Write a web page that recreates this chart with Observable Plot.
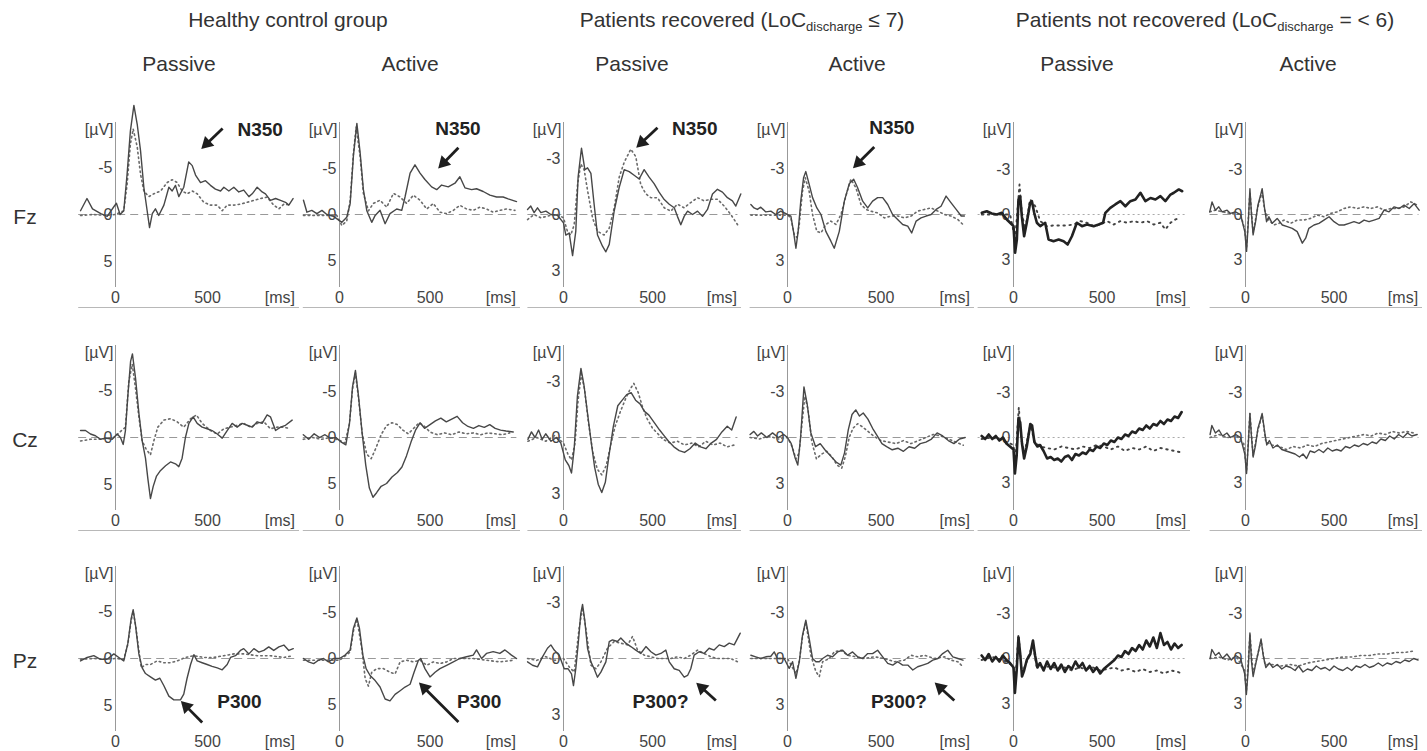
<!DOCTYPE html>
<html>
<head>
<meta charset="utf-8">
<script src="https://cdn.jsdelivr.net/npm/d3@7"></script>
<script src="https://cdn.jsdelivr.net/npm/@observablehq/plot@0.6"></script>
<style>
  body { margin: 0; background: #fff; font-family: "Liberation Sans", Arial, Helvetica, sans-serif; color: #333; }
  #fig { position: relative; width: 1427px; height: 751px; overflow: hidden; background: #fff; }
  .lbl { position: absolute; white-space: nowrap; font-size: 21px; transform: translate(-50%, -50%); color: #333; }
  .lbl sub { font-size: 13px; vertical-align: -4px; line-height: 0; }
  .panel { position: absolute; }
</style>
</head>
<body>
<div id="fig"></div>
<script>
// ---- labels -------------------------------------------------------------
const groupTitles = [
  "Healthy control group",
  "Patients recovered (LoC<sub>discharge</sub> \u2264 7)",
  "Patients not recovered (LoC<sub>discharge</sub> = < 6)"
];
const conditions = ["Passive", "Active", "Passive", "Active", "Passive", "Active"];
const electrodes = ["Fz", "Cz", "Pz"];
const healthyTicks = [-5, 0, 5];
const patientTicks = [-3, 0, 3];
const timeTicks = [0, 500];

// ---- grand averages: [time ms, amplitude µV]  (solid / dotted trace) -------
// Fz
const fzHealthyPassiveSolid = [[-190,-0.4],[-155,-1.7],[-125,-0.6],[-80,-0.1],[-45,0.2],[-10,-0.8],[5,-1.2],[25,0],[45,-0.4],[63,-4.3],[81,-8.9],[100,-11.6],[118,-9.6],[136,-6.8],[154,-2.9],[172,-0.4],[185,1.4],[200,-0.1],[217,-0.6],[235,0.1],[263,-1],[290,-2.9],[308,-2.5],[326,-3.1],[344,-1.9],[371,-2.9],[398,-5.6],[417,-5.2],[435,-4.2],[462,-3.4],[489,-3.6],[516,-3.1],[543,-2.7],[571,-2.5],[589,-2.9],[616,-2.5],[643,-2.9],[670,-2.4],[697,-2.6],[725,-1.9],[743,-2.2],[770,-2.9],[797,-2.4],[815,-2.2],[842,-1.5],[870,-1.7],[897,-1.5],[924,-1.3],[942,-1.0],[965,-1.7]];
const fzHealthyPassiveDotted = [[-190,0.1],[-120,0],[-50,0.1],[0,0],[45,-0.4],[63,-3.2],[81,-7.5],[96,-9.1],[118,-7.2],[136,-4.3],[154,-2.5],[181,-1.9],[208,-2.2],[245,-2.5],[281,-3.4],[308,-3.7],[335,-3.4],[362,-2.5],[390,-2.2],[417,-2.5],[444,-2.2],[480,-1.3],[516,-1.0],[553,-1.0],[580,-0.4],[607,-1.0],[643,-1.0],[679,-1.1],[716,-1.3],[752,-1.5],[788,-1.7],[824,-1.85],[860,-1.0],[888,-0.6],[915,-1.1],[951,-1.0]];
const fzHealthyActiveSolid = [[-199,-1.55],[-180,-0.25],[-153,-0.45],[-125,-0.1],[-97,-0.45],[-70,0],[-33,0.2],[13,0.85],[40,0.3],[59,-1.2],[77,-6.4],[96,-9.9],[114,-6.7],[132,-2.7],[151,-0.4],[178,0.85],[197,0.1],[224,-0.45],[252,1.0],[279,-0.1],[316,-0.6],[344,-0.45],[362,-1.9],[390,-4.5],[417,-5.4],[445,-4.5],[472,-3.8],[509,-3.0],[537,-2.7],[564,-3.2],[601,-3.0],[638,-3.4],[665,-4.1],[693,-2.9],[730,-2.7],[757,-2.8],[794,-2.5],[831,-2.1],[868,-1.9],[904,-1.9],[932,-1.7],[978,-1.4]];
const fzHealthyActiveDotted = [[-199,0.1],[-150,0.1],[-100,0.1],[-50,0.1],[-15,0.1],[13,1.2],[40,0.7],[59,-1.5],[77,-6.7],[92,-9.5],[114,-6.3],[132,-2.3],[160,-0.4],[187,-1.2],[224,-1.55],[261,-0.8],[298,-2.3],[335,-1.9],[371,-1.2],[408,-2.1],[445,-1.55],[482,-0.6],[518,-1.2],[555,-0.25],[592,-0.1],[629,-0.45],[665,-1.0],[702,-0.6],[739,-0.45],[776,-0.8],[812,-0.6],[849,-0.25],[886,-0.45],[923,-0.6],[969,-0.45]];
const fzRecoveredPassiveSolid = [[-202,-0.27],[-184,-0.45],[-165,-0.1],[-146,-0.36],[-127,-0.1],[-99,-0.18],[-71,0],[-34,0.04],[0,0.45],[13,1.1],[32,1.0],[51,2.2],[69,0.9],[82,-2.0],[101,-3.55],[120,-2.4],[135,-2.5],[154,-2.2],[172,-0.55],[191,1.1],[219,1.7],[238,2.0],[257,1.6],[285,-0.2],[313,-1.45],[341,-2.4],[369,-2.3],[397,-2.1],[425,-1.9],[453,-2.4],[481,-2.0],[509,-1.65],[537,-1.2],[566,-0.8],[594,-0.55],[622,-0.36],[640,0.1],[659,0.55],[678,0.1],[697,-0.18],[725,0],[753,-0.18],[781,0.1],[809,-0.27],[837,-1.1],[865,-1.35],[893,-1.2],[921,-0.9],[949,-0.73],[968,-0.45],[996,-1.1]];
const fzRecoveredPassiveDotted = [[-202,0.27],[-165,0],[-127,0.18],[-71,0.04],[-34,0],[0,0.18],[22,0.9],[41,1.1],[60,0.55],[79,-1.6],[97,-2.7],[116,-2.4],[135,-1.3],[163,0.18],[191,0.9],[228,1.1],[257,0.73],[285,-0.36],[313,-2.0],[341,-2.8],[378,-3.5],[406,-3.1],[434,-1.6],[463,-1.1],[491,-0.9],[528,-0.9],[566,-0.36],[603,-0.18],[640,-0.55],[678,-0.36],[715,-0.64],[753,-0.9],[790,-0.73],[828,-0.82],[865,-0.82],[903,-0.45],[940,0],[978,0.55]];
const fzRecoveredActiveSolid = [[-196,-0.65],[-179,-0.43],[-161,-0.33],[-143,-0.48],[-116,-0.17],[-89,-0.22],[-63,0],[-36,-0.22],[0,0],[18,0.1],[32,1.1],[45,2.2],[57,1.1],[71,-0.87],[86,-2.4],[98,-2.8],[116,-1.96],[134,-1.1],[157,-0.43],[179,0],[205,1.1],[232,1.74],[250,2.2],[277,1.1],[304,-0.87],[330,-2.0],[354,-2.3],[375,-1.74],[402,-0.87],[429,-0.43],[455,-0.87],[482,-1.1],[509,-1.1],[536,-0.65],[562,0],[589,0.33],[616,0.65],[643,0.76],[664,1.2],[688,0.43],[714,0.22],[741,0.1],[768,0],[795,-0.33],[821,-0.54],[848,-1.2],[875,-0.76],[902,-0.33],[929,0.1],[946,0.1]];
const fzRecoveredActiveDotted = [[-196,0.04],[-140,0.04],[-80,0.04],[-20,0.04],[0,0.04],[18,0.22],[36,1.3],[50,1.5],[63,0.65],[80,-1.5],[95,-2.4],[116,-1.5],[134,0],[157,1.1],[179,1.2],[205,0.65],[232,0.43],[259,0.65],[286,0],[313,-1.24],[339,-2.3],[366,-1.74],[393,-0.65],[420,-0.33],[446,-0.22],[482,-0.1],[518,0.22],[554,0.1],[589,0.1],[625,0.22],[661,0.1],[696,-0.22],[732,-0.33],[768,-0.43],[804,-0.22],[839,0],[875,0.1],[911,0.33],[938,0.65]];
const fzNotRecoveredPassiveSolid = [[-179,-0.11],[-151,-0.22],[-123,-0.07],[-94,0],[-66,-0.11],[-38,0.33],[-19,0.55],[0,0.78],[9,2.55],[19,1.67],[28,-1.0],[38,-1.2],[47,0.11],[60,1.45],[75,0.55],[94,-0.78],[104,-0.89],[117,-0.11],[132,0.55],[151,0.78],[179,0.55],[198,1.67],[226,1.78],[255,1.67],[283,1.78],[306,2.0],[330,1.45],[358,0.55],[387,0.78],[415,0.67],[453,0.78],[481,0.67],[506,0.55],[519,-0.11],[547,-0.44],[575,-0.67],[604,-0.89],[632,-0.55],[660,-0.89],[689,-1.0],[717,-1.45],[745,-0.89],[774,-1.1],[802,-1.0],[830,-1.22],[858,-0.89],[887,-1.33],[906,-1.45],[934,-1.67],[953,-1.55]];
const fzNotRecoveredPassiveDotted = [[-179,0],[-120,0],[-60,0],[-19,0],[9,1.67],[34,-2.0],[47,-0.11],[66,1.0],[94,-1.0],[123,-0.55],[151,0.44],[189,0.78],[226,0.73],[264,0.73],[302,0.73],[340,0.67],[377,0.44],[415,0.55],[453,0.78],[491,0.67],[528,0.44],[566,0.67],[604,0.44],[642,0.55],[679,0.44],[717,0.55],[755,0.44],[792,0.67],[830,0.55],[858,1.0],[887,0.55],[915,0.33],[943,0.22]];
const fzNotRecoveredActiveSolid = [[-202,-0.18],[-189,-0.84],[-170,-0.29],[-151,-0.51],[-132,-0.18],[-104,-0.29],[-85,-0.07],[-57,-0.18],[-28,0],[-4,1.14],[6,2.46],[15,0.7],[25,-1.72],[34,0.04],[43,1.36],[57,0.48],[70,-0.62],[85,-1.28],[94,-1.72],[108,-0.4],[119,0.48],[132,0.15],[151,0.59],[179,0.26],[208,0.7],[236,0.81],[264,0.92],[292,1.14],[321,1.91],[340,1.58],[358,0.92],[387,0.7],[415,0.59],[443,0.37],[472,0.15],[500,0.48],[528,0.7],[557,0.7],[585,0.59],[613,0.48],[642,0.59],[670,0.37],[698,0.48],[726,0.37],[755,0.26],[783,-0.29],[811,-0.18],[840,-0.51],[868,-0.4],[896,-0.62],[925,-0.4],[953,-0.73],[981,-0.29]];
const fzNotRecoveredActiveDotted = [[-202,-0.18],[-170,-0.29],[-132,-0.18],[-85,-0.07],[-28,0],[-4,1.0],[6,2.2],[25,-1.5],[43,1.2],[70,-0.5],[94,-1.5],[108,-0.3],[132,0.37],[160,0.7],[189,0.59],[217,0.37],[255,0.59],[292,0.37],[330,0.37],[368,0.26],[406,0.04],[443,0.15],[481,-0.07],[519,-0.18],[557,-0.4],[594,-0.51],[632,-0.4],[670,-0.51],[708,-0.4],[745,-0.51],[783,-0.29],[821,-0.4],[858,-0.4],[896,-0.51],[934,-0.84],[972,-0.62]];
// Cz
const czHealthyPassiveSolid = [[-190,-0.74],[-163,-0.74],[-136,-0.37],[-109,-0.19],[-82,0.19],[-54,0.07],[-18,0.19],[9,-0.37],[27,0],[42,0.74],[54,-0.74],[67,-4.4],[82,-8.1],[92,-8.9],[109,-6.3],[127,-2.6],[145,0.37],[163,2.2],[176,4.4],[190,6.5],[205,5.2],[223,4.1],[245,3.5],[272,3.0],[299,2.6],[326,2.8],[344,3.1],[362,2.2],[380,0],[399,-1.5],[422,-2.2],[444,-1.5],[471,-1.1],[498,-0.93],[525,-0.74],[553,-0.37],[580,0.07],[607,-0.74],[634,-1.5],[661,-1.1],[688,-1.5],[716,-1.3],[743,-1.1],[770,-1.67],[797,-1.5],[824,-2.4],[842,-2.2],[870,-0.74],[897,-1.1],[924,-1.3],[960,-1.85]];
const czHealthyPassiveDotted = [[-190,0.37],[-136,0.19],[-82,0.19],[-9,0],[54,-1.1],[72,-5.9],[91,-7.8],[109,-5.2],[127,-2.2],[145,0.37],[168,1.3],[190,1.85],[208,0.37],[230,-1.1],[263,-1.85],[299,-2.0],[335,-1.67],[371,-1.1],[408,-2.0],[440,-2.4],[471,-1.5],[516,-0.74],[553,-0.37],[589,-0.93],[625,-1.1],[661,-1.3],[697,-1.5],[734,-1.1],[770,-1.5],[806,-1.67],[842,-0.93],[879,-1.1],[915,-1.1],[951,-0.93]];
const czHealthyActiveSolid = [[-200,-0.3],[-170,0.2],[-140,-0.4],[-110,0],[-80,-0.3],[-50,0.1],[-20,0],[10,0.5],[35,0.8],[55,-1.5],[72,-5.5],[88,-7.3],[105,-4.5],[125,-0.5],[145,3],[165,5.5],[185,6.5],[205,6],[230,5.3],[260,5],[290,4.3],[320,3.8],[345,3.2],[370,2],[395,0.5],[420,-0.8],[445,-1.6],[470,-1.0],[500,-1.4],[530,-1.8],[560,-2.1],[590,-1.7],[620,-2.0],[650,-2.3],[680,-1.6],[710,-1.2],[740,-1.0],[770,-1.3],[800,-1.1],[830,-1.4],[860,-1.0],[890,-0.8],[920,-0.7],[960,-0.6]];
const czHealthyActiveDotted = [[-200,0.2],[-150,0],[-100,0.2],[-50,0],[0,0.3],[30,0.6],[55,-1.5],[72,-5.3],[88,-7],[105,-4.3],[125,-0.5],[150,1.8],[175,2.3],[200,1.2],[230,-0.3],[260,-1.3],[290,-1.6],[320,-1.4],[350,-0.8],[380,-0.4],[410,-1.0],[440,-1.6],[470,-1.2],[500,-0.6],[540,-0.3],[580,-0.5],[620,-0.3],[660,-0.6],[700,-0.4],[740,-0.5],[780,-0.3],[820,-0.5],[860,-0.4],[900,-0.3],[940,-0.5]];
const czRecoveredPassiveSolid = [[-200,0.1],[-180,-0.3],[-160,0],[-140,-0.4],[-120,0.1],[-100,-0.2],[-70,0.2],[-40,0],[-15,0.3],[10,1.2],[30,1.5],[45,1.9],[60,0.6],[78,-2.2],[98,-3.7],[115,-2.8],[135,-1.3],[155,0.2],[175,1.6],[195,2.5],[215,2.95],[235,2.4],[255,1.0],[280,-0.6],[305,-1.7],[330,-2.0],[355,-2.3],[380,-2.4],[405,-2.0],[430,-1.8],[455,-1.4],[480,-1.2],[510,-0.8],[540,-0.4],[565,-0.1],[590,0.2],[620,0.5],[650,0.7],[680,0.8],[710,0.6],[740,0.3],[770,0.5],[800,0.6],[830,0.3],[860,0.1],[890,-0.3],[920,-0.6],[945,-0.4],[970,-1.1]];
const czRecoveredPassiveDotted = [[-200,0.2],[-150,0],[-100,0.2],[-50,-0.1],[0,0.3],[25,0.9],[45,1.2],[65,0.3],[82,-2.0],[100,-3.4],[118,-2.6],[140,-0.8],[165,0.8],[190,1.7],[215,2.0],[240,1.5],[265,0.4],[290,-0.6],[320,-1.4],[350,-2.1],[375,-2.6],[395,-2.9],[420,-2.4],[445,-1.6],[470,-1.0],[500,-0.5],[530,-0.2],[560,0.1],[600,0.3],[640,0.2],[680,0.4],[720,0.3],[760,0.5],[800,0.2],[840,0.4],[880,0.3],[920,0.5],[960,0.4]];
const czRecoveredActiveSolid = [[-200,-0.2],[-180,-0.4],[-160,-0.1],[-140,-0.3],[-110,0],[-80,-0.3],[-50,0],[-20,-0.2],[0,0],[20,0.4],[40,1.3],[55,1.8],[70,0],[88,-3.3],[105,-2.2],[125,-0.3],[150,0.6],[175,0.4],[200,0.8],[230,1.2],[260,1.6],[285,1.8],[305,1.0],[325,-0.5],[345,-1.5],[365,-1.8],[385,-1.4],[405,-1.6],[430,-1.2],[455,-0.6],[480,-0.1],[505,0.4],[530,0.6],[560,0.8],[590,0.7],[620,0.9],[650,0.6],[680,0.7],[710,0.4],[740,0.3],[770,0.1],[800,-0.3],[830,-0.1],[860,0.2],[890,0.4],[920,0.1],[950,0.0]];
const czRecoveredActiveDotted = [[-200,0],[-150,0.1],[-100,-0.1],[-50,0.1],[0,0],[25,0.6],[45,1.4],[62,1.0],[80,-1.2],[93,-2.7],[110,-1.8],[130,0.3],[155,1.4],[180,1.1],[210,0.9],[240,1.3],[265,1.8],[290,2.0],[310,1.2],[330,0],[350,-0.6],[375,-0.9],[400,-0.7],[430,-0.4],[460,-0.1],[500,0.2],[540,0.3],[580,0.4],[620,0.2],[660,0.4],[700,0.2],[740,0],[780,-0.2],[820,-0.1],[860,0.1],[900,0.3],[940,0.5]];
const czNotRecoveredPassiveSolid = [[-180,-0.1],[-160,0.1],[-140,-0.2],[-120,0.1],[-100,-0.1],[-80,0.2],[-60,0],[-40,0.4],[-20,0.6],[0,0.8],[8,2.4],[18,1.2],[28,-1.3],[38,-1.0],[48,0.4],[60,1.4],[75,0.6],[95,-0.9],[105,-0.8],[118,0.3],[135,0.6],[150,0.5],[170,0.9],[190,1.4],[210,1.3],[230,1.5],[250,1.4],[270,1.6],[290,1.3],[310,1.2],[330,1.5],[350,1.1],[370,1.2],[390,1.0],[410,1.1],[430,0.8],[450,0.9],[470,0.6],[490,0.7],[510,0.4],[530,0.5],[550,0.2],[570,0.3],[590,0],[610,0.1],[630,-0.2],[650,-0.1],[670,-0.4],[690,-0.3],[710,-0.6],[730,-0.5],[750,-0.8],[770,-0.6],[790,-0.9],[810,-0.8],[830,-1.1],[850,-0.9],[870,-1.2],[890,-1.1],[910,-1.4],[930,-1.3],[950,-1.7]];
const czNotRecoveredPassiveDotted = [[-180,0.1],[-120,0],[-60,0.2],[0,0.5],[9,1.8],[30,-2.0],[45,0.2],[62,1.0],[95,-0.8],[120,0.3],[150,0.6],[190,0.7],[230,0.8],[270,0.6],[310,0.7],[350,0.8],[390,0.6],[430,0.7],[470,0.5],[510,0.6],[550,0.8],[590,0.6],[630,0.9],[670,0.7],[710,0.8],[750,0.6],[790,0.9],[830,0.7],[870,0.8],[910,0.9],[950,1.0]];
const czNotRecoveredActiveSolid = [[-200,-0.2],[-190,-0.8],[-170,-0.3],[-150,-0.5],[-130,-0.1],[-105,-0.3],[-85,0],[-55,-0.2],[-28,0],[-4,1.1],[6,2.4],[15,0.6],[25,-1.6],[34,0],[43,1.3],[57,0.5],[70,-0.6],[85,-1.2],[94,-1.6],[108,-0.4],[120,0.5],[135,0.2],[155,0.7],[180,0.5],[205,0.8],[230,0.9],[255,1.0],[280,1.1],[305,1.3],[325,1.1],[345,1.4],[365,0.9],[390,1.0],[415,0.8],[440,1.0],[465,0.7],[490,0.9],[515,0.8],[540,0.9],[565,0.6],[590,0.7],[615,0.5],[640,0.6],[665,0.4],[690,0.5],[715,0.3],[740,0.4],[765,0.1],[790,0.2],[815,-0.1],[840,0.1],[865,-0.2],[890,0],[915,-0.3],[940,-0.1],[970,-0.2]];
const czNotRecoveredActiveDotted = [[-200,0],[-150,-0.2],[-100,0],[-50,-0.1],[-10,0.4],[6,2.2],[25,-1.6],[43,1.2],[70,-0.5],[94,-1.5],[115,0.3],[150,0.5],[190,0.6],[230,0.8],[270,0.6],[310,0.7],[350,0.5],[390,0.6],[430,0.4],[470,0.3],[510,0.2],[550,0.1],[590,0],[630,-0.1],[670,-0.2],[710,-0.1],[750,-0.3],[790,-0.2],[830,-0.4],[870,-0.3],[910,-0.4],[950,-0.3]];
// Pz
const pzHealthyPassiveSolid = [[-190,0.26],[-154,-0.11],[-118,-0.3],[-82,0.08],[-45,0.08],[-9,-0.49],[18,-0.11],[45,0.26],[67,-1.6],[85,-4.25],[96,-5.2],[109,-3.5],[127,-0.49],[145,1.0],[163,1.6],[190,1.95],[217,2.3],[241,2.1],[263,2.9],[290,4.0],[317,4.4],[353,4.4],[371,3.8],[389,2.1],[408,0.64],[426,-0.41],[444,0.26],[471,0.45],[498,0.64],[525,0.83],[553,1.0],[580,1.2],[607,0.64],[625,-0.11],[652,-0.3],[679,-0.86],[697,-1.05],[725,-0.49],[752,-1.05],[779,-0.68],[806,-0.86],[833,-1.24],[860,-0.86],[888,-1.24],[915,-1.43],[942,-0.86],[966,-1.05]];
const pzHealthyPassiveDotted = [[-190,0.08],[-120,0],[-50,0.08],[0,0],[45,0.08],[67,-1.5],[85,-4.0],[96,-5.0],[110,-3.4],[127,-0.86],[140,1.0],[163,0.64],[190,0.64],[226,0.26],[263,0.45],[299,0.45],[335,0.26],[380,-0.11],[426,-0.3],[480,-0.11],[534,-0.11],[589,-0.3],[643,-0.49],[697,-0.49],[770,-0.3],[842,-0.3],[915,-0.11],[966,-0.3]];
const pzHealthyActiveSolid = [[-199,0],[-171,0.37],[-143,0.55],[-116,0.19],[-88,0],[-61,0.37],[-33,0],[0,0],[31,-0.37],[59,-0.93],[77,-3.3],[96,-4.4],[110,-3.3],[129,-0.37],[147,1.1],[169,1.85],[197,2.4],[224,3.1],[252,4.4],[279,4.6],[307,3.9],[335,3.5],[362,3.1],[390,2.8],[412,1.5],[436,0.19],[449,0],[472,1.1],[500,2.0],[528,1.5],[555,1.1],[592,0.74],[629,0.37],[665,0],[702,-0.19],[739,-0.37],[757,-0.93],[785,0],[812,-0.55],[849,-0.74],[886,-0.55],[914,-0.93],[950,-0.37],[978,0]];
const pzHealthyActiveDotted = [[-199,0.19],[-150,0.19],[-100,0.19],[-50,0.19],[0,0.19],[59,-0.7],[77,-3.0],[96,-4.3],[123,-1.1],[142,2.2],[160,3.0],[178,1.5],[206,1.1],[243,1.1],[279,1.5],[307,1.67],[335,0.37],[371,0.19],[408,0.37],[445,0.19],[482,0.74],[518,0.37],[555,0.55],[592,0.37],[629,0],[665,0],[739,0],[812,0.19],[886,0.37],[960,0.19]];
const pzRecoveredPassiveSolid = [[-202,0.18],[-174,0.36],[-146,0.45],[-118,-0.09],[-90,-0.55],[-71,-0.73],[-52,-0.45],[-24,-0.18],[4,0.55],[26,0.55],[45,0.82],[56,1.45],[69,0.55],[82,-0.73],[97,-2.4],[107,-2.9],[120,-2.0],[135,-0.55],[154,0.18],[172,0.55],[191,1.0],[210,0.73],[238,0.18],[257,-0.91],[275,-1.0],[303,-0.91],[322,-1.1],[350,-0.82],[378,-0.64],[406,-0.45],[434,-0.27],[463,-0.64],[491,-0.36],[519,-0.18],[547,-0.27],[575,-0.45],[594,0.18],[622,0.55],[650,0.64],[678,1.0],[697,0.91],[715,0.55],[734,-0.18],[762,-0.36],[790,-0.27],[818,-0.55],[846,-0.45],[875,-0.73],[903,-0.64],[931,-0.82],[959,-0.73],[993,-1.36]];
const pzRecoveredPassiveDotted = [[-202,0],[-150,0.1],[-100,-0.1],[-50,0.1],[0,0],[32,0.45],[60,0.73],[88,-1.64],[107,-2.73],[125,-1.64],[154,0.36],[182,0.55],[210,0.18],[247,-0.55],[285,-0.91],[322,-0.82],[360,-0.73],[388,-1.18],[416,-0.45],[453,-0.18],[491,-0.09],[528,0],[566,0],[603,0],[640,-0.09],[678,0],[715,-0.18],[753,-0.45],[790,-0.27],[828,-0.09],[865,0],[903,0],[940,0],[978,0.18]];
const pzRecoveredActiveSolid = [[-196,-0.21],[-170,-0.11],[-143,0],[-116,-0.11],[-89,-0.15],[-71,-0.43],[-54,0],[-18,0],[9,0.64],[27,0.21],[45,1.29],[63,0.21],[80,-1.5],[98,-2.5],[116,-1.29],[134,0],[152,0.21],[170,0.21],[188,0],[214,-0.21],[241,-0.11],[268,-0.43],[295,-0.54],[321,-0.21],[348,-0.43],[375,-0.11],[402,0],[429,-0.32],[455,-0.32],[482,-0.54],[509,-0.11],[536,0.32],[563,0.43],[589,0.21],[616,0.43],[643,0.43],[670,0.75],[696,0.54],[723,0.43],[750,0.32],[777,0.11],[804,0],[830,-0.32],[857,-0.54],[884,-0.11],[911,0],[938,0.11]];
const pzRecoveredActiveDotted = [[-196,0],[-130,0],[-60,0],[0,0],[45,1.0],[63,0.2],[80,-1.4],[98,-2.4],[125,-0.21],[152,0.86],[170,1.18],[188,0.21],[223,0],[250,-0.43],[286,-0.54],[321,-0.21],[366,-0.11],[411,0],[464,-0.11],[518,0],[571,0.21],[625,0.11],[661,-0.21],[696,-0.11],[732,-0.21],[786,0],[839,-0.11],[875,0.11],[911,0.21],[938,0.54]];
const pzNotRecoveredPassiveSolid = [[-180,-0.2],[-160,0.1],[-140,-0.3],[-120,0.2],[-100,-0.1],[-80,0.2],[-60,-0.2],[-40,0.1],[-20,0.3],[0,0.6],[8,2.3],[18,0.8],[28,-1.4],[38,-0.3],[48,1.2],[60,0.8],[75,0.1],[95,-0.3],[110,-1.2],[122,-0.2],[135,0.6],[150,0.3],[170,0.8],[190,0.2],[210,0.7],[230,0.3],[250,0.8],[270,0.4],[290,0.9],[310,0.5],[330,0.7],[350,0.2],[370,0.6],[390,0.3],[410,0.8],[430,0.5],[450,0.9],[470,0.6],[490,1.0],[510,0.7],[530,0.5],[550,0.3],[570,0.1],[590,-0.2],[610,-0.1],[630,-0.5],[650,-0.3],[670,-0.7],[690,-0.5],[710,-0.9],[730,-0.6],[750,-1.2],[770,-0.8],[790,-1.4],[810,-0.7],[830,-1.7],[850,-0.9],[870,-1.1],[890,-0.6],[910,-1.0],[930,-0.7],[950,-0.9]];
const pzNotRecoveredPassiveDotted = [[-180,0.1],[-120,-0.1],[-60,0.1],[0,0.5],[9,1.8],[28,-1.6],[48,1.0],[75,0.2],[110,-1.0],[130,0.5],[170,0.6],[210,0.5],[250,0.7],[290,0.6],[330,0.8],[370,0.6],[410,0.7],[450,0.6],[490,0.8],[530,0.7],[570,0.6],[610,0.8],[650,0.7],[690,0.9],[730,0.7],[770,0.9],[810,0.8],[850,1.0],[890,0.8],[930,0.9],[950,1.0]];
const pzNotRecoveredActiveSolid = [[-200,0],[-190,-0.6],[-170,-0.2],[-150,-0.4],[-130,0],[-105,-0.3],[-80,0.1],[-55,-0.2],[-28,0],[-5,1.0],[5,2.4],[15,0.8],[25,-1.7],[34,0.2],[43,1.2],[57,0.4],[72,-0.4],[88,-1.3],[100,-0.2],[115,0.6],[135,0.3],[155,0.6],[180,0.4],[205,0.7],[230,0.5],[255,0.6],[280,0.8],[300,0.5],[325,0.9],[350,0.7],[375,0.8],[400,0.5],[425,0.7],[450,0.6],[475,0.8],[500,0.5],[525,0.7],[550,0.8],[575,0.6],[600,0.8],[625,0.5],[650,0.6],[675,0.4],[700,0.6],[725,0.5],[750,0.3],[775,0.5],[800,0.3],[825,0.4],[850,0.2],[875,0.3],[900,0.1],[925,0.2],[950,0],[975,0.1]];
const pzNotRecoveredActiveDotted = [[-200,0],[-150,-0.1],[-100,0.1],[-50,-0.1],[-5,0.8],[5,2.2],[25,-1.6],[43,1.0],[88,-1.2],[110,0.4],[150,0.4],[200,0.5],[250,0.4],[300,0.5],[350,0.3],[400,0.2],[450,0.1],[500,0],[550,-0.1],[600,-0.1],[650,-0.2],[700,-0.2],[750,-0.3],[800,-0.3],[850,-0.4],[900,-0.4],[950,-0.5]];

// ---- panel grid ---------------------------------------------------------
const traces = [
  [[fzHealthyPassiveSolid, fzHealthyPassiveDotted], [fzHealthyActiveSolid, fzHealthyActiveDotted],
   [fzRecoveredPassiveSolid, fzRecoveredPassiveDotted], [fzRecoveredActiveSolid, fzRecoveredActiveDotted],
   [fzNotRecoveredPassiveSolid, fzNotRecoveredPassiveDotted], [fzNotRecoveredActiveSolid, fzNotRecoveredActiveDotted]],
  [[czHealthyPassiveSolid, czHealthyPassiveDotted], [czHealthyActiveSolid, czHealthyActiveDotted],
   [czRecoveredPassiveSolid, czRecoveredPassiveDotted], [czRecoveredActiveSolid, czRecoveredActiveDotted],
   [czNotRecoveredPassiveSolid, czNotRecoveredPassiveDotted], [czNotRecoveredActiveSolid, czNotRecoveredActiveDotted]],
  [[pzHealthyPassiveSolid, pzHealthyPassiveDotted], [pzHealthyActiveSolid, pzHealthyActiveDotted],
   [pzRecoveredPassiveSolid, pzRecoveredPassiveDotted], [pzRecoveredActiveSolid, pzRecoveredActiveDotted],
   [pzNotRecoveredPassiveSolid, pzNotRecoveredPassiveDotted], [pzNotRecoveredActiveSolid, pzNotRecoveredActiveDotted]]
];

// layout of each column: where the amplitude axis sits, ms and µV scale
const columns = [
  {axisX: 115,  pxPerMs: 0.184, uvPerPx: 5 / 47, ticks: healthyTicks, titleX: 179},
  {axisX: 339,  pxPerMs: 0.181, uvPerPx: 5 / 46, ticks: healthyTicks, titleX: 410},
  {axisX: 563,  pxPerMs: 0.178, uvPerPx: 3 / 56, ticks: patientTicks, titleX: 632},
  {axisX: 787,  pxPerMs: 0.187, uvPerPx: 3 / 46, ticks: patientTicks, titleX: 857},
  {axisX: 1013, pxPerMs: 0.177, uvPerPx: 3 / 45, ticks: patientTicks, titleX: 1077, heavy: true},
  {axisX: 1245, pxPerMs: 0.177, uvPerPx: 3 / 45, ticks: patientTicks, titleX: 1308}
];
const rowZeroY = [214, 437, 658];
const groupCenters = [288, 742, 1205];

// component annotations, in each panel's own ms / µV coordinates
const notes = [
  {row: 0, col: 0, label: "N350", tx: 663, ty: -9.0, x1: 582, y1: -9.15, x2: 473, y2: -7.1},
  {row: 0, col: 1, label: "N350", tx: 529, ty: -9.3, x1: 657, y1: -7.25, x2: 552, y2: -5.15},
  {row: 0, col: 2, label: "N350", tx: 610, ty: -4.6, x1: 528, y1: -4.65, x2: 416, y2: -3.64},
  {row: 0, col: 3, label: "N350", tx: 437, ty: -5.65, x1: 464, y1: -4.4, x2: 357, y2: -3.1},
  {row: 2, col: 0, label: "P300", tx: 553, ty: 4.65, x1: 471, y1: 6.8, x2: 362, y2: 4.65},
  {row: 2, col: 1, label: "P300", tx: 649, ty: 4.7, x1: 657, y1: 6.9, x2: 446, y2: 2.75},
  {row: 2, col: 2, label: "P300?", tx: 388, ty: 2.34, x1: 856, y1: 2.25, x2: 753, y2: 1.36},
  {row: 2, col: 3, label: "P300?", tx: 446, ty: 2.85, x1: 892, y1: 2.74, x2: 794, y2: 1.65}
];

const fig = document.getElementById("fig");
const font = '"Liberation Sans", Arial, Helvetica, sans-serif';

function addLabel(html, x, y) {
  const d = document.createElement("div");
  d.className = "lbl";
  d.innerHTML = html;
  d.style.left = x + "px";
  d.style.top = y + "px";
  fig.appendChild(d);
}

groupTitles.forEach((t, i) => addLabel(t, groupCenters[i], 20));
columns.forEach((c, i) => addLabel(conditions[i], c.titleX, 64));
electrodes.forEach((e, i) => addLabel(e, 25, rowZeroY[i] + 3));

const W = 240, H = 222, OX = 45, OY = 125;

function panel(row, col) {
  const c = columns[col];
  const p = c.pxPerMs, k = c.uvPerPx;
  const [solid, dotted] = traces[row][col];
  const px = v => v * k; // pixel offset from the baseline expressed in µV

  // arrow shafts end just behind a filled, rotated triangle head
  const arrows = notes.filter(n => n.row === row && n.col === col).map(n => {
    const dx = (n.x2 - n.x1) * p, dy = (n.y2 - n.y1) / k;
    const len = Math.hypot(dx, dy), ux = dx / len, uy = dy / len;
    return {
      ...n,
      sx: n.x2 - 8 * ux / p, sy: n.y2 - 8 * uy * k,
      hx: n.x2 - 6 * ux / p, hy: n.y2 - 6 * uy * k,
      angle: Math.atan2(ux, -uy) * 180 / Math.PI
    };
  });

  const svg = Plot.plot({
    width: W,
    height: H,
    style: {background: "transparent", overflow: "visible", fontFamily: font},
    x: {axis: null, domain: [-200, 1000], range: [OX - 200 * p, OX + 1000 * p]},
    y: {axis: null, domain: [px(-OY), px(H - OY)], range: [0, H]},
    marks: [
      // bottom rule under the time labels
      Plot.ruleY([px(93)], {x1: -200, x2: 1000, stroke: "#b8b8b8", strokeWidth: 1.2}),
      // amplitude axis
      Plot.ruleX([0], {y1: px(-92), y2: px(73), stroke: "#999", strokeWidth: 1}),
      // baseline
      Plot.ruleY([0], {x1: -200, x2: 980, stroke: c.heavy ? "#aaa" : "#999", strokeWidth: 1,
        strokeDasharray: c.heavy ? "2,3" : "8,5"}),
      Plot.text(c.ticks, {x: () => 0, y: d => d, text: d => String(d), dx: -3, textAnchor: "end",
        fontSize: 16, fill: "#444"}),
      Plot.text(["[µV]"], {x: () => 0, y: () => px(-85), dx: -2, textAnchor: "end", fontSize: 16, fill: "#444"}),
      Plot.text(timeTicks, {x: d => d, y: () => px(83), text: d => String(d), fontSize: 16, fill: "#444"}),
      Plot.text(["[ms]"], {x: () => 975, y: () => px(83), textAnchor: "end", fontSize: 16, fill: "#444"}),
      Plot.line(dotted, {x: d => d[0], y: d => d[1], stroke: c.heavy ? "#444" : "#6a6a6a",
        strokeWidth: c.heavy ? 1.9 : 1.6, strokeDasharray: c.heavy ? "1.5,4.5" : "1.5,3.2", strokeLinecap: "round"}),
      Plot.line(solid, {x: d => d[0], y: d => d[1], stroke: c.heavy ? "#222" : "#474747",
        strokeWidth: c.heavy ? 2.6 : 1.4, strokeLinejoin: "round"}),
      Plot.link(arrows, {x1: "x1", y1: "y1", x2: "sx", y2: "sy", stroke: "#1e1e1e", strokeWidth: 2.8}),
      Plot.dot(arrows, {x: "hx", y: "hy", symbol: "triangle", r: 5, fill: "#1e1e1e", stroke: "none",
        rotate: "angle"}),
      Plot.text(arrows, {x: "tx", y: "ty", text: "label", textAnchor: "start", fontSize: 19,
        fontWeight: "bold", fill: "#222"})
    ]
  });
  svg.classList.add("panel");
  svg.style.left = (c.axisX - OX) + "px";
  svg.style.top = (rowZeroY[row] - OY) + "px";
  fig.appendChild(svg);
}

for (let r = 0; r < 3; r++) for (let c = 0; c < 6; c++) panel(r, c);
</script>
</body>
</html>
